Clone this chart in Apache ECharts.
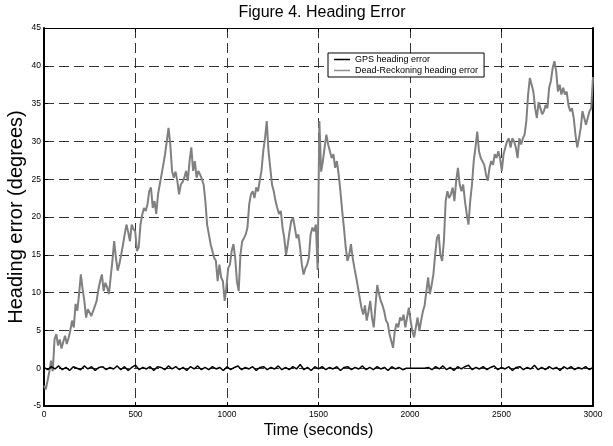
<!DOCTYPE html>
<html>
<head>
<meta charset="utf-8">
<title>Figure 4. Heading Error</title>
<script src="https://cdn.jsdelivr.net/npm/echarts@6/dist/echarts.min.js"></script>
<style>
  html, body { margin: 0; padding: 0; background: #fff; }
  #chart { width: 613px; height: 446px; }
</style>
</head>
<body>
<div id="chart"></div>
<script>
// Axis ranges (seconds / degrees)
const xRange = { min: 0, max: 3000, step: 500 };
const yRange = { min: -5, max: 45, step: 5 };

const seriesNames = ['GPS heading error', 'Dead-Reckoning heading error'];

// Dead-reckoning heading error (deg), evenly sampled over 0..3000 s
const drError = [
  -2.3,-2.8,-1.7,-0.5,1.0,-0.4,3.8,4.5,3.0,3.8,2.6,3.5,4.3,3.2,4.0,5.0,6.3,5.4,8.5,7.6,
  9.8,12.4,10.5,8.9,6.7,7.8,8.0,6.9,7.1,8.2,8.9,10.4,11.5,12.4,10.2,11.3,10.7,9.8,12.0,14.2,
  16.8,14.6,12.9,13.8,15.0,16.3,17.7,19.0,18.0,16.8,19.0,18.4,18.1,15.5,16.0,19.0,20.3,21.2,20.8,21.7,
  23.4,23.9,21.2,22.1,20.4,23.0,24.3,25.6,26.9,28.3,30.0,31.8,29.6,26.1,25.2,26.0,24.8,23.0,24.3,24.6,
  25.2,26.1,24.8,27.4,29.2,26.1,27.4,25.2,26.1,25.6,25.0,24.3,22.1,19.0,17.7,16.4,15.5,14.6,14.2,11.5,
  13.7,12.0,11.5,8.9,10.7,13.2,13.7,15.5,16.4,14.6,11.5,10.2,15.0,16.8,17.2,17.7,18.6,21.7,23.0,23.4,
  22.5,23.9,23.4,24.8,26.1,28.7,30.4,32.7,28.7,26.5,24.3,23.4,22.1,21.2,20.4,20.8,18.6,17.2,15.0,16.4,
  18.1,19.5,19.9,18.6,17.2,17.7,16.0,13.7,12.4,13.2,13.7,14.6,17.7,18.6,18.1,19.0,13.0,32.7,26.0,27.4,
  29.2,30.9,29.6,28.7,27.8,28.3,26.5,27.4,25.6,23.4,20.8,18.6,16.0,14.2,15.0,16.4,14.6,13.2,12.0,10.7,
  9.3,8.0,7.1,8.3,6.3,7.5,8.9,6.7,5.4,8.3,11.0,9.8,8.9,8.3,7.5,6.3,5.9,4.5,3.6,2.7,
  4.9,5.9,5.4,6.7,6.3,7.1,5.4,6.7,8.0,6.3,4.9,4.1,5.4,6.7,4.9,6.3,7.5,8.3,10.2,12.0,
  9.8,11.0,12.4,15.0,17.2,17.7,15.0,14.2,16.8,22.1,23.4,22.5,23.0,23.9,22.1,24.8,26.5,24.3,23.4,24.3,
  22.1,20.4,19.0,22.1,24.3,27.4,29.2,31.3,28.7,27.8,27.8,26.9,25.6,24.8,26.5,27.4,26.9,28.3,27.8,28.7,
  27.8,26.1,28.3,29.2,30.0,30.4,29.2,30.4,30.0,29.2,27.8,30.4,29.6,30.4,30.9,32.7,36.2,38.4,37.5,36.6,
  34.4,33.1,35.2,34.4,33.6,34.0,34.8,34.4,37.1,38.0,39.7,40.6,39.3,36.6,37.5,36.2,37.1,36.2,36.6,34.8,
  34.0,34.4,33.1,30.9,29.2,30.4,31.8,34.0,33.1,32.2,33.1,34.0,34.4,38.5
];

// GPS heading error (deg), one sample every 20 s from 0 to 3000 s
const gpsStep = 20;
const gpsError = [
  0.1,-0.2,0.2,-0.1,0.3,-0.2,0.1,-0.3,0.2,0.0,
  -0.2,0.3,-0.1,0.2,-0.3,0.1,0.2,-0.2,0.1,-0.1,
  0.3,-0.2,0.2,-0.3,0.1,0.4,-0.2,0.1,-0.1,0.2,
  -0.3,0.2,0.1,-0.2,0.3,-0.1,0.2,-0.2,0.1,-0.3,
  0.2,-0.1,0.3,-0.2,0.1,-0.2,0.2,-0.1,0.1,-0.3,
  0.2,-0.2,0.1,0.3,-0.2,0.1,-0.1,0.2,-0.3,0.1,
  0.2,-0.2,0.1,-0.1,0.3,-0.2,0.1,-0.2,0.2,-0.1,
  0.5,-0.2,0.1,-0.3,0.2,-0.1,0.2,-0.2,0.1,-0.1,
  0.2,-0.3,0.1,0.2,-0.2,0.1,-0.1,0.3,-0.2,0.1,
  -0.2,0.2,-0.1,0.1,-0.3,0.2,-0.1,0.1,-0.2,0.0,
  0.0,0.0,0.0,0.0,0.0,0.1,-0.2,0.2,-0.1,0.3,
  -0.2,0.1,-0.3,0.2,-0.1,0.2,0.4,-0.2,0.1,-0.1,
  0.2,-0.2,0.1,0.3,-0.2,0.1,-0.1,0.2,-0.3,0.1,
  0.2,-0.2,0.1,-0.1,0.4,-0.2,0.1,-0.2,0.2,-0.1,
  0.1,-0.3,0.2,-0.1,0.2,-0.2,0.1,-0.1,0.2,-0.2,
  0.1
];

const FONT = '"Liberation Sans", Arial, Helvetica, sans-serif';

const drPoints = drError.map((v, k) => [k * (xRange.max - xRange.min) / (drError.length - 1) + xRange.min, v]);
const gpsPoints = gpsError.map((v, k) => [k * gpsStep, v]);

const gridDash = { type: [10, 5], color: '#333', width: 1 };
const tickLabel = { fontFamily: FONT, fontSize: 8.5, color: '#000', formatter: (v) => String(v) };

const chart = echarts.init(document.getElementById('chart'), null, { renderer: 'canvas' });
chart.setOption({
  animation: false,
  backgroundColor: '#fff',
  title: {
    text: 'Figure 4. Heading Error',
    left: 317,
    textAlign: 'center',
    top: 0,
    textStyle: { fontFamily: FONT, fontSize: 16, fontWeight: 'normal', color: '#000' }
  },
  grid: { left: 44, right: 20, top: 28, bottom: 40, containLabel: false, outerBoundsMode: 'none' },
  legend: {
    data: seriesNames,
    orient: 'vertical',
    left: 328,
    top: 53,
    icon: 'rect',
    itemWidth: 16,
    itemHeight: 1.5,
    itemGap: 0,
    padding: [1, 6, 1, 6],
    backgroundColor: '#fff',
    borderColor: '#000',
    borderWidth: 1,
    borderRadius: 0,
    itemStyle: { borderWidth: 0 },
    lineStyle: { width: 0 },
    textStyle: { fontFamily: FONT, fontSize: 9, color: '#000', lineHeight: 11 }
  },
  xAxis: [
    {
      type: 'value', min: xRange.min, max: xRange.max, interval: xRange.step, position: 'bottom',
      axisLine: { show: true, onZero: false, lineStyle: { color: '#000', width: 2 } },
      axisTick: { show: true, inside: true, length: 4, lineStyle: { color: '#000' } },
      axisLabel: Object.assign({ margin: 4 }, tickLabel),
      splitLine: { show: true, lineStyle: gridDash },
      name: 'Time (seconds)', nameLocation: 'middle', nameGap: 17, nameMoveOverlap: false,
      nameTextStyle: { fontFamily: FONT, fontSize: 16, color: '#000' }
    },
    {
      type: 'value', min: xRange.min, max: xRange.max, interval: xRange.step, position: 'top',
      axisLine: { show: true, onZero: false, lineStyle: { color: '#000', width: 1 } },
      axisTick: { show: true, inside: true, length: 4, lineStyle: { color: '#000' } },
      axisLabel: { show: false }, splitLine: { show: false }
    }
  ],
  yAxis: [
    {
      type: 'value', min: yRange.min, max: yRange.max, interval: yRange.step, position: 'left',
      axisLine: { show: true, onZero: false, lineStyle: { color: '#000', width: 2 } },
      axisTick: { show: true, inside: true, length: 4, lineStyle: { color: '#000' } },
      axisLabel: Object.assign({ margin: 3 }, tickLabel),
      splitLine: { show: true, lineStyle: gridDash },
      name: 'Heading error (degrees)', nameLocation: 'middle', nameGap: 18, nameMoveOverlap: false,
      nameTextStyle: { fontFamily: FONT, fontSize: 20, color: '#000' }
    },
    {
      type: 'value', min: yRange.min, max: yRange.max, interval: yRange.step, position: 'right',
      axisLine: { show: true, onZero: false, lineStyle: { color: '#000', width: 2 } },
      axisTick: { show: true, inside: true, length: 4, lineStyle: { color: '#000' } },
      axisLabel: { show: false }, splitLine: { show: false }
    }
  ],
  series: [
    {
      name: seriesNames[0], type: 'line', xAxisIndex: 0, yAxisIndex: 0,
      data: gpsPoints, symbol: 'none', z: 3,
      lineStyle: { color: '#000', width: 1.5 }, itemStyle: { color: '#000' }
    },
    {
      name: seriesNames[1], type: 'line', xAxisIndex: 0, yAxisIndex: 0,
      data: drPoints, symbol: 'none', z: 2,
      lineStyle: { color: '#808080', width: 2 }, itemStyle: { color: '#8c8c8c' }
    }
  ]
});
</script>
</body>
</html>
